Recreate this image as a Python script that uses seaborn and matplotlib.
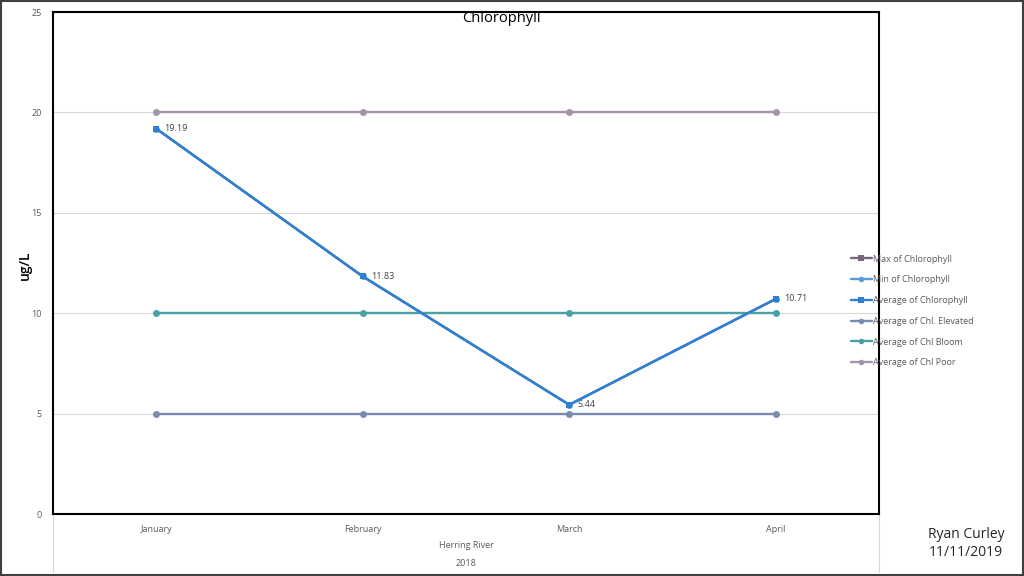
import numpy as np
import pandas as pd
import matplotlib.pyplot as plt
import seaborn as sns
from matplotlib.patches import Rectangle

# data
months = ["January", "February", "March", "April"]
chl_max = [19.19, 11.83, 5.44, 10.71]
chl_min = [19.19, 11.83, 5.44, 10.71]
chl_avg = [19.19, 11.83, 5.44, 10.71]
chl_elevated = [5, 5, 5, 5]
chl_bloom = [10, 10, 10, 10]
chl_poor = [20, 20, 20, 20]

series = [
    ("Max of Chlorophyll", chl_max, "#76667c", "s"),
    ("Min of Chlorophyll", chl_min, "#5b9bd5", "o"),
    ("Average of Chlorophyll", chl_avg, "#2f7fd3", "s"),
    ("Average of Chl. Elevated", chl_elevated, "#7a8cad", "o"),
    ("Average of Chl Bloom", chl_bloom, "#4aa2a6", "o"),
    ("Average of Chl Poor", chl_poor, "#a494a8", "o"),
]

sns.set_theme(style="white")
plt.rcParams['font.family'] = ['Open Sans', 'DejaVu Sans']

fig = plt.figure(figsize=(10.24, 5.76), dpi=100)
ax = fig.add_axes([53 / 1024, 1 - 514 / 576, (879 - 53) / 1024, (514 - 12) / 576])

# draw order: reference lines first, average on top
order = [5, 4, 3, 0, 1, 2]
for i in order:
    name, vals, col, mk = series[i]
    df = pd.DataFrame({"month": months, "value": vals})
    sns.lineplot(data=df, x="month", y="value", ax=ax, color=col, marker=mk,
                 markersize=5, markeredgewidth=0, linewidth=1.7, label=name,
                 sort=False, zorder=3 + order.index(i))

for i, v in enumerate(chl_avg):
    ax.annotate(f"{v:.2f}", (i, v), xytext=(6, 0), textcoords="offset points",
                ha="left", va="center", fontsize=6.5, color="#404040")

ax.set_xlim(-0.5, 3.5)
ax.set_ylim(0, 25)
ax.set_yticks([0, 5, 10, 15, 20, 25])
ax.yaxis.grid(True, color="#d9d9d9", linewidth=0.8)
ax.set_axisbelow(True)
ax.tick_params(axis="both", length=0, labelsize=6.5, labelcolor="#595959", pad=8)
ax.tick_params(axis="x", pad=8)
for s in ax.spines.values():
    s.set_color("black")
    s.set_linewidth(1.5)

ax.set_xlabel("")
ax.set_ylabel("")
fig.text(25 / 1024, 1 - 265 / 576, "ug/L", rotation=90, ha="center", va="center",
         fontsize=10, fontweight="semibold", color="black")
fig.text(501 / 1024, 1 - 18 / 576, "Chlorophyll", ha="center", va="center",
         fontsize=10.5, color="black")

# category axis area below the plot
depth = (572 - 514) / 502
for xx in (0, 1):
    ax.plot([xx, xx], [0, -depth], transform=ax.transAxes, color="#d9d9d9",
            linewidth=0.8, clip_on=False)
ax.text(0.5, -(545 - 514) / 502, "Herring River", transform=ax.transAxes,
        ha="center", va="center", fontsize=6.5, color="#595959")
ax.text(0.5, -(564 - 514) / 502, "2018", transform=ax.transAxes,
        ha="center", va="center", fontsize=6.5, color="#595959")

# legend in the same order as the original
handles, labels = ax.get_legend_handles_labels()
lookup = dict(zip(labels, handles))
names = [s[0] for s in series]
ax.legend([lookup[n] for n in names], names, loc="center left",
          bbox_to_anchor=(851 / 1024, 1 - 311 / 576), bbox_transform=fig.transFigure,
          frameon=False, fontsize=6.5, labelcolor="#595959", handlelength=2.3,
          handletextpad=0.1, labelspacing=1.3, borderpad=0, borderaxespad=0,
          markerscale=0.8)

fig.text(966 / 1024, 1 - 535 / 576, "Ryan Curley", ha="center", va="center", fontsize=10)
fig.text(966 / 1024, 1 - 553 / 576, "11/11/2019", ha="center", va="center", fontsize=10)

fig.patches.append(Rectangle((0.001, 0.002), 0.998, 0.996, transform=fig.transFigure,
                             fill=False, edgecolor="#404040", linewidth=1.5))

fig.savefig("out.png", dpi=100)
